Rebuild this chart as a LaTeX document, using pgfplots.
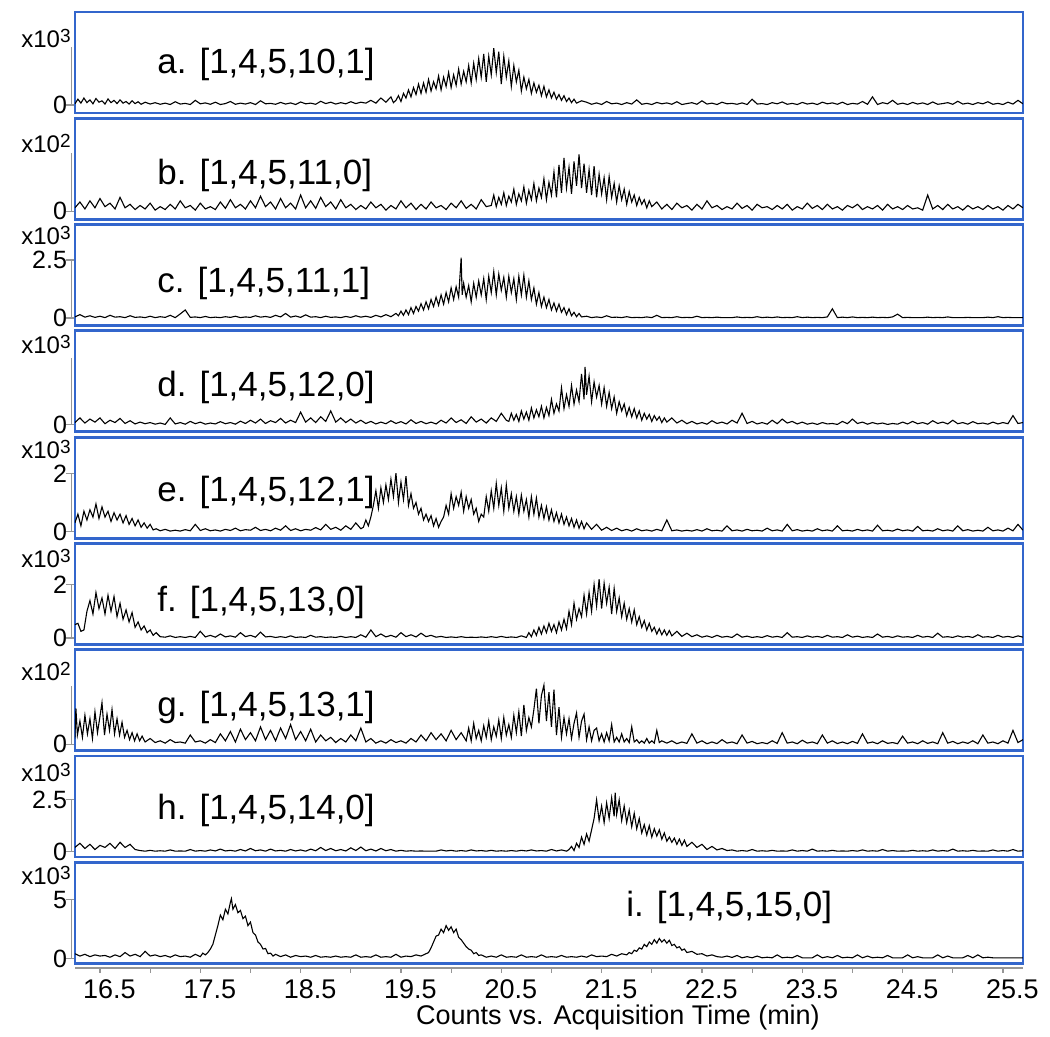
\documentclass[border=0pt]{standalone}
\usepackage{fontspec}
\setmainfont{Liberation Sans}
\usepackage{pgfplots}
\pgfplotsset{compat=1.18}
\definecolor{fblue}{RGB}{51,102,204}
\definecolor{agray}{RGB}{150,150,150}
\pgfplotsset{
 panel/.style={scale only axis, width=474pt, height=50.5pt, anchor=south west,
  xmin=16.251, xmax=25.70, xtick=\empty,
  axis line style={draw=fblue, line width=1.4pt},
  ytick pos=left, tick align=outside, major tick length=4.5pt,
  tick style={draw=agray, line width=0.6pt},
  yticklabel style={font=\fontsize{12.5}{14}\selectfont, xshift=4pt},
  /pgf/number format/assume math mode=true,
  clip mode=individual, scaled y ticks=false},
 trace/.style={black, line width=0.55pt, mark=none}
}
\newcommand{\gline}[1]{\draw[agray, line width=0.6pt] ([xshift=-1.6pt]axis cs:16.251,0) -- ([xshift=-1.6pt]axis cs:16.251,#1);}
\begin{document}
\begin{tikzpicture}[x=1pt,y=1pt]
\useasboundingbox (0,0) rectangle (525,518.5);
% ---------- a ----------
\begin{axis}[panel, at={(37.5pt,462pt)}, ymin=-0.345, ymax=4.01, ytick={0}]
\addplot[trace] coordinates {(16.25,0.05)(16.28,0.25)(16.31,0.08)(16.34,0.3)(16.37,0.1)(16.4,0.22)(16.43,0.05)(16.46,0.28)(16.49,0.12)(16.52,0.18)(16.55,0.04)(16.58,0.26)(16.61,0.1)(16.64,0.2)(16.67,0.06)(16.7,0.22)(16.73,0.08)(16.76,0.15)(16.79,0.04)(16.82,0.18)(16.85,0.06)(16.88,0.14)(16.91,0.03)(16.95,0.12)(17,0.04)
(17.05,0.1)(17.1,0.03)(17.15,0.08)(17.2,0.02)(17.25,0.14)(17.3,0.04)(17.35,0.07)(17.4,0.02)(17.45,0.2)(17.5,0.05)(17.55,0.09)(17.6,0.03)(17.65,0.12)(17.7,0.02)(17.75,0.06)(17.8,0.15)(17.85,0.03)(17.9,0.08)(17.95,0.04)(18,0.1)(18.05,0.02)(18.1,0.18)(18.15,0.05)(18.2,0.07)(18.25,0.03)(18.3,0.11)(18.35,0.04)(18.4,0.09)(18.45,0.02)(18.5,0.13)(18.55,0.05)(18.6,0.08)(18.65,0.03)(18.7,0.16)(18.75,0.06)(18.8,0.12)(18.85,0.04)(18.9,0.1)(18.95,0.05)(19,0.14)(19.05,0.06)(19.1,0.12)(19.15,0.08)
(19.2,0.2)(19.25,0.08)(19.3,0.3)(19.35,0.12)(19.4,0.35)(19.425,0.1)
(19.45,0.2)(19.475,0.4)(19.5,0.15)(19.525,0.5)(19.55,0.3)(19.575,0.65)(19.6,0.35)(19.625,0.75)(19.65,0.45)(19.675,0.9)(19.7,0.5)(19.725,0.95)(19.75,0.55)(19.775,1.1)(19.8,0.6)(19.825,1.0)(19.85,0.7)(19.875,1.25)(19.9,0.65)(19.925,1.2)(19.95,0.8)(19.975,1.4)(20,0.75)(20.025,1.3)(20.05,0.85)(20.075,1.55)(20.1,0.9)(20.125,1.45)(20.15,1.0)(20.175,1.7)(20.2,0.95)(20.225,1.8)(20.25,1.1)(20.275,2.0)(20.3,1.2)(20.325,2.2)(20.35,1.0)(20.375,2.1)(20.4,1.3)(20.425,2.45)(20.45,1.4)(20.475,2.3)(20.5,0.9)(20.525,2.1)(20.55,1.2)(20.575,1.9)(20.6,0.8)(20.625,1.7)(20.65,1.0)(20.675,1.5)(20.7,0.6)(20.725,1.2)(20.75,0.7)(20.775,1.1)(20.8,0.5)(20.825,0.95)(20.85,0.55)(20.875,0.85)(20.9,0.4)(20.925,0.8)(20.95,0.35)(20.975,0.65)(21,0.3)(21.025,0.55)(21.05,0.25)(21.075,0.45)(21.1,0.2)(21.125,0.4)(21.15,0.15)(21.175,0.3)(21.2,0.1)(21.225,0.25)(21.25,0.08)(21.3,0.18)
(21.35,0.12)(21.4,0.03)(21.45,0.09)(21.5,0.02)(21.55,0.15)(21.6,0.05)(21.65,0.08)(21.7,0.02)(21.75,0.1)(21.8,0.04)(21.85,0.22)(21.9,0.03)(21.95,0.07)(22,0.02)(22.05,0.11)(22.1,0.05)(22.15,0.09)(22.2,0.03)(22.25,0.14)(22.3,0.02)(22.35,0.06)(22.4,0.1)(22.45,0.03)(22.5,0.18)(22.55,0.04)(22.6,0.08)(22.65,0.02)(22.7,0.12)(22.75,0.05)(22.8,0.07)(22.85,0.03)(22.9,0.09)(22.95,0.02)(23,0.25)(23.05,0.04)(23.1,0.06)(23.15,0.02)(23.2,0.1)(23.25,0.05)(23.3,0.13)(23.35,0.03)(23.4,0.07)(23.45,0.02)(23.5,0.11)(23.55,0.04)(23.6,0.08)(23.65,0.02)(23.7,0.12)(23.75,0.05)(23.8,0.09)(23.85,0.03)(23.9,0.12)(23.95,0.02)(24,0.07)(24.05,0.04)(24.1,0.15)(24.15,0.03)(24.2,0.35)(24.25,0.02)(24.3,0.1)(24.35,0.05)(24.4,0.2)(24.45,0.03)(24.5,0.08)(24.55,0.02)(24.6,0.11)(24.65,0.04)(24.7,0.09)(24.75,0.02)(24.8,0.13)(24.85,0.03)(24.9,0.06)(24.95,0.1)(25,0.03)(25.05,0.16)(25.1,0.04)(25.15,0.08)(25.2,0.02)(25.25,0.1)(25.3,0.05)(25.35,0.14)(25.4,0.03)(25.45,0.07)(25.5,0.02)(25.55,0.12)(25.6,0.04)(25.65,0.2)(25.7,0.05)};
\gline{2.5}
\end{axis}
% ---------- b ----------
\begin{axis}[panel, at={(37.5pt,408.85pt)}, ymin=-0.69, ymax=8.02, ytick={0}]
\addplot[trace] coordinates {(16.25,0.3)(16.3,0.8)(16.35,0.2)(16.4,0.9)(16.45,0.3)(16.5,1.1)(16.55,0.4)(16.6,0.7)(16.65,0.2)(16.7,1.2)(16.75,0.3)(16.8,0.6)(16.85,0.15)(16.9,0.5)(16.95,0.2)(17,0.7)(17.05,0.1)(17.1,0.4)(17.15,0.15)(17.2,0.6)(17.25,0.2)(17.3,0.9)(17.35,0.3)(17.4,0.5)(17.45,0.1)(17.5,0.7)(17.55,0.2)(17.6,0.4)(17.65,0.15)(17.7,0.8)(17.75,0.25)(17.8,1.0)(17.85,0.3)(17.9,0.6)(17.95,0.2)(18,0.9)(18.05,0.3)(18.1,1.3)(18.15,0.4)(18.2,0.8)(18.25,0.2)(18.3,1.1)(18.35,0.3)(18.4,0.7)(18.45,0.2)(18.5,1.4)(18.55,0.3)(18.6,0.9)(18.65,0.25)(18.7,1.2)(18.75,0.4)(18.8,0.8)(18.85,0.2)(18.9,1.0)(18.95,0.3)(19,0.6)(19.05,0.15)(19.1,0.5)(19.15,0.2)(19.2,0.8)(19.25,0.3)(19.3,0.6)(19.35,0.1)(19.4,0.5)(19.45,0.2)(19.5,0.9)(19.55,0.3)(19.6,0.7)(19.65,0.15)(19.7,0.6)(19.75,0.2)(19.8,0.8)(19.85,0.3)(19.9,0.5)(19.95,0.15)(20,0.7)(20.05,0.3)(20.1,0.9)(20.15,0.25)(20.2,0.6)(20.25,0.2)(20.3,1.0)(20.35,0.4)
(20.4,0.5)(20.425,1.4)(20.45,0.4)(20.475,1.2)(20.5,0.6)(20.525,1.6)(20.55,0.5)(20.575,1.3)(20.6,0.8)(20.625,1.9)(20.65,0.6)(20.675,1.5)(20.7,0.9)(20.725,2.1)(20.75,0.7)(20.775,1.8)(20.8,1.0)(20.825,2.4)(20.85,0.9)(20.875,2.0)(20.9,1.2)(20.925,2.8)(20.95,1.0)(20.975,2.5)(21,1.4)(21.025,3.4)(21.05,1.2)(21.075,4.0)(21.1,1.6)(21.125,4.6)(21.15,2.0)(21.175,3.8)(21.2,1.5)(21.225,4.3)(21.25,2.2)(21.275,4.9)(21.3,2.0)(21.325,4.1)(21.35,1.6)(21.375,3.6)(21.4,1.4)(21.425,3.9)(21.45,1.2)(21.475,3.2)(21.5,1.5)(21.525,2.9)(21.55,1.0)(21.575,3.0)(21.6,1.2)(21.625,2.4)(21.65,0.8)(21.675,2.2)(21.7,1.0)(21.725,1.9)(21.75,0.6)(21.775,1.7)(21.8,0.8)(21.825,1.4)(21.85,0.5)(21.875,1.2)(21.9,0.6)(21.925,1.0)(21.95,0.3)(21.975,0.9)(22,0.4)
(22.05,0.8)(22.1,0.2)(22.15,0.6)(22.2,0.15)(22.25,0.7)(22.3,0.3)(22.35,0.5)(22.4,0.1)(22.45,0.6)(22.5,0.2)(22.55,0.9)(22.6,0.3)(22.65,0.5)(22.7,0.15)(22.75,0.4)(22.8,0.2)(22.85,0.7)(22.9,0.25)(22.95,0.5)(23,0.1)(23.05,0.6)(23.1,0.3)(23.15,0.4)(23.2,0.15)(23.25,0.5)(23.3,0.2)(23.35,0.6)(23.4,0.1)(23.45,0.4)(23.5,0.2)(23.55,0.7)(23.6,0.25)(23.65,0.5)(23.7,0.15)(23.75,0.6)(23.8,0.2)(23.85,0.4)(23.9,0.1)(23.95,0.5)(24,0.3)(24.05,0.6)(24.1,0.15)(24.15,0.4)(24.2,0.2)(24.25,0.5)(24.3,0.1)(24.35,0.6)(24.4,0.2)(24.45,0.4)(24.5,0.15)(24.55,0.5)(24.6,0.2)(24.65,0.3)(24.7,0.1)(24.75,1.4)(24.8,0.2)(24.85,0.5)(24.9,0.15)(24.95,0.6)(25,0.2)(25.05,0.4)(25.1,0.1)(25.15,0.5)(25.2,0.2)(25.25,0.4)(25.3,0.15)(25.35,0.5)(25.4,0.2)(25.45,0.4)(25.5,0.1)(25.55,0.5)(25.6,0.2)(25.65,0.6)(25.7,0.3)};
\gline{5}
\end{axis}
% ---------- c ----------
\begin{axis}[panel, at={(37.5pt,355.7pt)}, ymin=-0.323, ymax=4.03, ytick={0,2.5}]
\addplot[trace] coordinates {(16.25,0.05)(16.3,0.15)(16.35,0.04)(16.4,0.1)(16.45,0.03)(16.5,0.08)(16.55,0.02)(16.6,0.12)(16.65,0.04)(16.7,0.06)(16.75,0.02)(16.8,0.1)(16.85,0.03)(16.9,0.05)(16.95,0.02)(17,0.08)(17.05,0.02)(17.1,0.06)(17.15,0.03)(17.2,0.12)(17.25,0.02)(17.3,0.18)(17.35,0.35)(17.4,0.03)(17.45,0.05)(17.5,0.02)(17.55,0.07)(17.6,0.02)(17.65,0.04)(17.7,0.02)(17.75,0.06)(17.8,0.03)(17.85,0.08)(17.9,0.02)(17.95,0.05)(18,0.03)(18.05,0.1)(18.1,0.04)(18.15,0.07)(18.2,0.03)(18.25,0.12)(18.3,0.05)(18.35,0.2)(18.4,0.04)(18.45,0.09)(18.5,0.03)(18.55,0.14)(18.6,0.04)(18.65,0.06)(18.7,0.02)(18.75,0.08)(18.8,0.03)(18.85,0.05)(18.9,0.02)(18.95,0.07)(19,0.03)(19.05,0.1)(19.1,0.04)(19.15,0.08)(19.2,0.03)(19.25,0.12)(19.3,0.05)(19.35,0.15)(19.4,0.06)(19.45,0.2)
(19.475,0.1)(19.5,0.3)(19.525,0.12)(19.55,0.35)(19.575,0.15)(19.6,0.45)(19.625,0.2)(19.65,0.5)(19.675,0.3)(19.7,0.62)(19.725,0.35)(19.75,0.7)(19.775,0.4)(19.8,0.8)(19.825,0.5)(19.85,0.9)(19.875,0.55)(19.9,1.0)(19.925,0.6)(19.95,1.1)(19.975,0.7)(20,1.3)(20.025,0.8)(20.05,1.35)(20.075,0.9)(20.1,2.6)(20.11,1.0)(20.125,1.5)(20.15,0.9)(20.175,1.4)(20.2,0.7)(20.225,1.5)(20.25,0.9)(20.275,1.6)(20.3,1.0)(20.325,1.7)(20.35,0.8)(20.375,1.8)(20.4,1.1)(20.425,2.0)(20.45,1.0)(20.475,1.9)(20.5,1.2)(20.525,1.75)(20.55,0.9)(20.575,1.8)(20.6,1.1)(20.625,1.7)(20.65,0.8)(20.675,1.8)(20.7,1.0)(20.725,1.85)(20.75,0.9)(20.775,1.6)(20.8,0.8)(20.825,1.3)(20.85,0.6)(20.875,1.1)(20.9,0.5)(20.925,0.9)(20.95,0.45)(20.975,0.8)(21,0.35)(21.025,0.65)(21.05,0.3)(21.075,0.6)(21.1,0.25)(21.125,0.45)(21.15,0.15)(21.175,0.4)(21.2,0.1)(21.225,0.25)(21.25,0.06)(21.275,0.2)(21.3,0.05)
(21.35,0.08)(21.4,0.02)(21.45,0.05)(21.5,0.02)(21.55,0.1)(21.6,0.03)(21.65,0.04)(21.7,0.02)(21.75,0.06)(21.8,0.02)(21.85,0.03)(21.9,0.02)(21.95,0.05)(22,0.02)(22.05,0.12)(22.1,0.02)(22.15,0.03)(22.2,0.02)(22.25,0.06)(22.3,0.02)(22.35,0.03)(22.4,0.02)(22.45,0.08)(22.5,0.02)(22.55,0.03)(22.6,0.02)(22.65,0.04)(22.7,0.02)(22.75,0.02)(22.8,0.02)(22.85,0.05)(22.9,0.02)(22.95,0.03)(23,0.02)(23.05,0.06)(23.1,0.02)(23.15,0.04)(23.2,0.02)(23.25,0.05)(23.3,0.02)(23.35,0.03)(23.4,0.02)(23.45,0.06)(23.5,0.02)(23.55,0.04)(23.6,0.02)(23.65,0.03)(23.7,0.02)(23.75,0.05)(23.8,0.4)(23.85,0.02)(23.9,0.04)(23.95,0.02)(24,0.05)(24.05,0.02)(24.1,0.03)(24.15,0.02)(24.2,0.04)(24.25,0.02)(24.3,0.03)(24.35,0.02)(24.4,0.05)(24.45,0.17)(24.5,0.02)(24.55,0.03)(24.6,0.02)(24.65,0.02)(24.7,0.02)(24.75,0.04)(24.8,0.02)(24.85,0.03)(24.9,0.02)(24.95,0.05)(25,0.02)(25.05,0.02)(25.1,0.02)(25.15,0.03)(25.2,0.02)(25.25,0.02)(25.3,0.02)(25.35,0.04)(25.4,0.02)(25.45,0.06)(25.5,0.02)(25.55,0.03)(25.6,0.02)(25.65,0.02)(25.7,0.02)};
\gline{2.5}
\end{axis}
% ---------- d ----------
\begin{axis}[panel, at={(37.5pt,302.55pt)}, ymin=-0.302, ymax=4.052, ytick={0}]
\addplot[trace] coordinates {(16.25,0.1)(16.3,0.3)(16.35,0.08)(16.4,0.25)(16.45,0.12)(16.5,0.3)(16.55,0.05)(16.6,0.2)(16.65,0.1)(16.7,0.28)(16.75,0.06)(16.8,0.18)(16.85,0.04)(16.9,0.12)(16.95,0.05)(17,0.1)(17.05,0.03)(17.1,0.08)(17.15,0.02)(17.2,0.3)(17.25,0.04)(17.3,0.1)(17.35,0.03)(17.4,0.15)(17.45,0.05)(17.5,0.12)(17.55,0.03)(17.6,0.08)(17.65,0.04)(17.7,0.14)(17.75,0.05)(17.8,0.1)(17.85,0.03)(17.9,0.16)(17.95,0.06)(18,0.2)(18.05,0.08)(18.1,0.25)(18.15,0.06)(18.2,0.18)(18.25,0.1)(18.3,0.28)(18.35,0.08)(18.4,0.2)(18.45,0.1)(18.5,0.55)(18.55,0.12)(18.6,0.3)(18.65,0.1)(18.7,0.35)(18.75,0.15)(18.8,0.6)(18.85,0.12)(18.9,0.3)(18.95,0.1)(19,0.25)(19.05,0.08)(19.1,0.2)(19.15,0.06)(19.2,0.15)(19.25,0.04)(19.3,0.12)(19.35,0.05)(19.4,0.18)(19.45,0.06)(19.5,0.14)(19.55,0.04)(19.6,0.22)(19.65,0.06)(19.7,0.15)(19.75,0.05)(19.8,0.12)(19.85,0.04)(19.9,0.2)(19.95,0.08)(20,0.3)(20.05,0.1)(20.1,0.22)(20.15,0.06)(20.2,0.35)(20.25,0.12)(20.3,0.25)(20.35,0.08)(20.4,0.3)(20.45,0.15)(20.5,0.5)(20.55,0.2)
(20.575,0.15)(20.6,0.5)(20.625,0.2)(20.65,0.45)(20.675,0.15)(20.7,0.6)(20.725,0.25)(20.75,0.55)(20.775,0.2)(20.8,0.73)(20.825,0.3)(20.85,0.65)(20.875,0.35)(20.9,0.8)(20.925,0.3)(20.95,0.75)(20.975,0.4)(21,1.1)(21.025,0.5)(21.05,0.9)(21.075,0.6)(21.1,1.6)(21.125,0.7)(21.15,1.3)(21.175,0.8)(21.2,1.7)(21.225,0.9)(21.25,1.5)(21.275,1.0)(21.3,2.2)(21.325,1.1)(21.335,2.5)(21.35,1.3)(21.375,2.1)(21.4,1.0)(21.425,1.85)(21.45,1.2)(21.475,1.7)(21.5,0.9)(21.525,1.6)(21.55,0.8)(21.575,1.4)(21.6,0.7)(21.625,1.2)(21.65,0.5)(21.675,1.0)(21.7,0.6)(21.725,0.9)(21.75,0.4)(21.775,0.75)(21.8,0.35)(21.825,0.7)(21.85,0.3)(21.875,0.6)(21.9,0.2)(21.925,0.5)(21.95,0.25)(21.975,0.45)(22,0.15)(22.025,0.4)(22.05,0.2)(22.075,0.35)(22.1,0.1)(22.125,0.3)(22.15,0.12)(22.2,0.3)(22.25,0.08)
(22.3,0.2)(22.35,0.05)(22.4,0.15)(22.45,0.04)(22.5,0.1)(22.55,0.03)(22.6,0.18)(22.65,0.06)(22.7,0.12)(22.75,0.04)(22.8,0.2)(22.85,0.08)(22.9,0.5)(22.95,0.06)(23,0.15)(23.05,0.04)(23.1,0.1)(23.15,0.03)(23.2,0.2)(23.25,0.05)(23.3,0.25)(23.35,0.08)(23.4,0.15)(23.45,0.04)(23.5,0.12)(23.55,0.03)(23.6,0.08)(23.65,0.02)(23.7,0.1)(23.75,0.04)(23.8,0.06)(23.85,0.02)(23.9,0.15)(23.95,0.05)(24,0.25)(24.05,0.06)(24.1,0.12)(24.15,0.03)(24.2,0.1)(24.25,0.04)(24.3,0.08)(24.35,0.02)(24.4,0.06)(24.45,0.03)(24.5,0.12)(24.55,0.04)(24.6,0.15)(24.65,0.05)(24.7,0.1)(24.75,0.03)(24.8,0.18)(24.85,0.06)(24.9,0.12)(24.95,0.04)(25,0.2)(25.05,0.05)(25.1,0.1)(25.15,0.03)(25.2,0.14)(25.25,0.05)(25.3,0.08)(25.35,0.03)(25.4,0.12)(25.45,0.04)(25.5,0.1)(25.55,0.05)(25.6,0.4)(25.65,0.06)(25.7,0.1)};
\gline{2.9}
\end{axis}
% ---------- e ----------
\begin{axis}[panel, at={(37.5pt,249.4pt)}, ymin=-0.223, ymax=3.236, ytick={0,2}]
\addplot[trace] coordinates {(16.25,0.3)(16.28,0.6)(16.31,0.2)(16.34,0.7)(16.37,0.4)(16.4,0.75)(16.43,0.5)(16.46,0.95)(16.49,0.45)(16.52,0.85)(16.55,0.5)(16.58,0.7)(16.61,0.35)(16.64,0.65)(16.67,0.4)(16.7,0.6)(16.73,0.3)(16.76,0.55)(16.79,0.25)(16.82,0.45)(16.85,0.2)(16.88,0.4)(16.91,0.15)(16.94,0.3)(16.97,0.12)(17,0.25)(17.03,0.06)(17.06,0.1)
(17.1,0.03)(17.15,0.08)(17.2,0.02)(17.25,0.05)(17.3,0.02)(17.35,0.07)(17.4,0.03)(17.45,0.25)(17.5,0.04)(17.55,0.1)(17.6,0.03)(17.65,0.06)(17.7,0.02)(17.75,0.08)(17.8,0.04)(17.85,0.12)(17.9,0.03)(17.95,0.07)(18,0.05)(18.05,0.15)(18.1,0.04)(18.15,0.08)(18.2,0.03)(18.25,0.12)(18.3,0.05)(18.35,0.2)(18.4,0.04)(18.45,0.1)(18.5,0.03)(18.55,0.08)(18.6,0.05)(18.65,0.14)(18.7,0.06)(18.75,0.25)(18.8,0.08)(18.85,0.15)(18.9,0.05)(18.95,0.2)(19,0.08)(19.05,0.3)(19.1,0.1)
(19.125,0.15)(19.15,0.4)(19.175,0.2)(19.2,0.5)(19.225,0.9)(19.25,1.4)(19.275,0.8)(19.3,1.5)(19.325,1.0)(19.35,1.6)(19.375,1.1)(19.4,1.8)(19.425,1.2)(19.45,2.0)(19.475,1.0)(19.5,1.7)(19.525,1.1)(19.55,1.9)(19.575,0.9)(19.6,1.3)(19.625,0.8)(19.65,1.0)(19.675,0.6)(19.7,0.8)(19.725,0.4)(19.75,0.6)(19.775,0.35)(19.8,0.55)(19.825,0.2)(19.85,0.45)(19.875,0.15)(19.9,0.35)(19.925,0.5)(19.95,0.9)(19.975,0.6)(20,1.3)(20.025,0.8)(20.05,1.2)(20.075,0.9)(20.1,1.35)(20.125,0.7)(20.15,1.2)(20.175,0.8)(20.2,1.1)(20.225,0.6)(20.25,0.8)(20.275,0.35)(20.3,0.6)(20.325,0.5)(20.35,1.2)(20.375,0.7)(20.4,1.4)(20.425,0.8)(20.45,1.65)(20.475,0.9)(20.5,1.5)(20.525,0.7)(20.55,1.6)(20.575,0.8)(20.6,1.3)(20.625,0.7)(20.65,1.2)(20.675,0.6)(20.7,1.25)(20.725,0.7)(20.75,1.1)(20.775,0.5)(20.8,1.2)(20.825,0.6)(20.85,1.15)(20.875,0.5)(20.9,0.9)(20.925,0.45)(20.95,0.85)(20.975,0.4)(21,0.75)(21.025,0.35)(21.05,0.65)(21.075,0.3)(21.1,0.6)(21.125,0.25)(21.15,0.5)(21.175,0.2)(21.2,0.45)(21.225,0.15)(21.25,0.4)(21.275,0.12)(21.3,0.35)(21.325,0.1)(21.35,0.3)(21.4,0.08)(21.45,0.25)(21.5,0.05)(21.55,0.15)
(21.6,0.04)(21.65,0.12)(21.7,0.03)(21.75,0.08)(21.8,0.02)(21.85,0.1)(21.9,0.03)(21.95,0.06)(22,0.02)(22.05,0.08)(22.1,0.03)(22.15,0.4)(22.2,0.03)(22.25,0.06)(22.3,0.02)(22.35,0.05)(22.4,0.02)(22.45,0.07)(22.5,0.02)(22.55,0.1)(22.6,0.03)(22.65,0.05)(22.7,0.02)(22.75,0.2)(22.8,0.03)(22.85,0.06)(22.9,0.02)(22.95,0.08)(23,0.03)(23.05,0.05)(23.1,0.02)(23.15,0.12)(23.2,0.03)(23.25,0.06)(23.3,0.02)(23.35,0.25)(23.4,0.03)(23.45,0.07)(23.5,0.02)(23.55,0.05)(23.6,0.02)(23.65,0.1)(23.7,0.03)(23.75,0.06)(23.8,0.02)(23.85,0.2)(23.9,0.03)(23.95,0.05)(24,0.02)(24.05,0.08)(24.1,0.03)(24.15,0.06)(24.2,0.02)(24.25,0.22)(24.3,0.03)(24.35,0.05)(24.4,0.02)(24.45,0.09)(24.5,0.03)(24.55,0.06)(24.6,0.02)(24.65,0.18)(24.7,0.03)(24.75,0.05)(24.8,0.02)(24.85,0.1)(24.9,0.03)(24.95,0.06)(25,0.02)(25.05,0.2)(25.1,0.03)(25.15,0.07)(25.2,0.02)(25.25,0.05)(25.3,0.02)(25.35,0.15)(25.4,0.03)(25.45,0.06)(25.5,0.02)(25.55,0.12)(25.6,0.03)(25.65,0.25)(25.7,0.05)};
\gline{2}
\end{axis}
% ---------- f ----------
\begin{axis}[panel, at={(37.5pt,196.25pt)}, ymin=-0.243, ymax=3.539, ytick={0,2}]
\addplot[trace] coordinates {(16.25,0.5)(16.28,0.55)(16.31,0.25)(16.34,0.3)(16.37,1.0)(16.4,1.4)(16.43,0.9)(16.46,1.7)(16.49,1.1)(16.52,1.5)(16.55,0.9)(16.58,1.6)(16.61,1.0)(16.64,1.55)(16.67,0.8)(16.7,1.3)(16.73,0.7)(16.76,1.05)(16.79,0.6)(16.82,0.95)(16.85,0.4)(16.88,0.6)(16.91,0.3)(16.94,0.45)(16.97,0.2)(17,0.3)(17.03,0.1)(17.06,0.2)
(17.1,0.05)(17.15,0.03)(17.2,0.08)(17.25,0.02)(17.3,0.05)(17.35,0.02)(17.4,0.06)(17.45,0.02)(17.5,0.25)(17.55,0.04)(17.6,0.1)(17.65,0.03)(17.7,0.15)(17.75,0.04)(17.8,0.08)(17.85,0.03)(17.9,0.2)(17.95,0.05)(18,0.1)(18.05,0.03)(18.1,0.22)(18.15,0.04)(18.2,0.06)(18.25,0.02)(18.3,0.05)(18.35,0.02)(18.4,0.08)(18.45,0.02)(18.5,0.04)(18.55,0.02)(18.6,0.1)(18.65,0.03)(18.7,0.05)(18.75,0.02)(18.8,0.04)(18.85,0.02)(18.9,0.06)(18.95,0.02)(19,0.05)(19.05,0.02)(19.1,0.12)(19.15,0.03)(19.2,0.3)(19.25,0.05)(19.3,0.15)(19.35,0.04)(19.4,0.1)(19.45,0.03)(19.5,0.2)(19.55,0.05)(19.6,0.12)(19.65,0.04)(19.7,0.18)(19.75,0.05)(19.8,0.1)(19.85,0.03)(19.9,0.06)(19.95,0.02)(20,0.04)(20.05,0.02)(20.1,0.05)(20.15,0.02)(20.2,0.03)(20.25,0.02)(20.3,0.04)(20.35,0.02)(20.4,0.05)(20.45,0.02)(20.5,0.06)(20.55,0.02)(20.6,0.04)(20.65,0.02)(20.7,0.08)(20.75,0.02)
(20.775,0.2)(20.8,0.05)(20.825,0.3)(20.85,0.1)(20.875,0.4)(20.9,0.15)(20.925,0.45)(20.95,0.2)(20.975,0.55)(21,0.25)(21.025,0.5)(21.05,0.2)(21.075,0.6)(21.1,0.3)(21.125,0.7)(21.15,0.35)(21.175,1.0)(21.2,0.5)(21.225,1.3)(21.25,0.7)(21.275,1.1)(21.3,0.8)(21.325,1.6)(21.35,0.9)(21.375,1.7)(21.4,1.0)(21.425,2.0)(21.45,1.2)(21.475,2.2)(21.5,1.1)(21.525,2.05)(21.55,1.3)(21.575,1.9)(21.6,0.9)(21.625,1.85)(21.65,1.0)(21.675,1.5)(21.7,0.8)(21.725,1.3)(21.75,0.7)(21.775,1.1)(21.8,0.6)(21.825,1.05)(21.85,0.5)(21.875,0.8)(21.9,0.4)(21.925,0.65)(21.95,0.3)(21.975,0.55)(22,0.25)(22.025,0.4)(22.05,0.15)(22.075,0.35)(22.1,0.12)(22.125,0.3)(22.15,0.1)(22.175,0.28)(22.2,0.08)(22.25,0.25)(22.3,0.06)(22.35,0.18)(22.4,0.05)
(22.45,0.12)(22.5,0.03)(22.55,0.08)(22.6,0.02)(22.65,0.1)(22.7,0.03)(22.75,0.06)(22.8,0.02)(22.85,0.15)(22.9,0.03)(22.95,0.07)(23,0.02)(23.05,0.05)(23.1,0.02)(23.15,0.09)(23.2,0.03)(23.25,0.06)(23.3,0.02)(23.35,0.2)(23.4,0.03)(23.45,0.05)(23.5,0.02)(23.55,0.08)(23.6,0.03)(23.65,0.06)(23.7,0.02)(23.75,0.1)(23.8,0.03)(23.85,0.05)(23.9,0.02)(23.95,0.12)(24,0.03)(24.05,0.07)(24.1,0.02)(24.15,0.05)(24.2,0.02)(24.25,0.15)(24.3,0.03)(24.35,0.06)(24.4,0.02)(24.45,0.08)(24.5,0.03)(24.55,0.05)(24.6,0.02)(24.65,0.1)(24.7,0.03)(24.75,0.06)(24.8,0.02)(24.85,0.18)(24.9,0.03)(24.95,0.05)(25,0.02)(25.05,0.08)(25.1,0.03)(25.15,0.06)(25.2,0.02)(25.25,0.12)(25.3,0.03)(25.35,0.05)(25.4,0.02)(25.45,0.1)(25.5,0.03)(25.55,0.06)(25.6,0.02)(25.65,0.08)(25.7,0.03)};
\gline{2}
\end{axis}
% ---------- g ----------
\begin{axis}[panel, at={(37.5pt,143.1pt)}, ymin=-0.56, ymax=8.147, ytick={0}]
\addplot[trace] coordinates {(16.25,0.5)(16.26,3.1)(16.275,0.8)(16.3,2.0)(16.325,0.6)(16.35,2.5)(16.375,0.9)(16.4,2.2)(16.425,0.5)(16.45,2.8)(16.475,1.0)(16.5,2.4)(16.52,3.6)(16.545,0.8)(16.57,2.6)(16.595,1.2)(16.62,3.0)(16.645,0.9)(16.67,2.2)(16.695,0.8)(16.72,1.9)(16.745,0.6)(16.77,1.2)(16.795,0.4)(16.82,1.0)(16.845,0.3)(16.87,0.9)(16.895,0.3)(16.92,0.7)
(16.95,0.2)(17,0.5)(17.05,0.15)(17.1,0.3)(17.15,0.1)(17.2,0.4)(17.25,0.15)(17.3,0.2)(17.35,0.1)(17.4,0.8)(17.45,0.2)(17.5,0.3)(17.55,0.1)(17.6,0.4)(17.65,0.15)(17.7,0.9)(17.75,0.3)(17.8,1.1)(17.85,0.2)(17.9,1.3)(17.95,0.4)(18,1.0)(18.05,0.3)(18.1,1.5)(18.15,0.4)(18.2,1.2)(18.25,0.3)(18.3,1.4)(18.35,0.5)(18.4,1.7)(18.45,0.4)(18.5,1.1)(18.55,0.3)(18.6,1.3)(18.65,0.2)(18.7,0.8)(18.75,0.3)(18.8,0.6)(18.85,0.15)(18.9,0.5)(18.95,0.2)(19,0.8)(19.05,0.3)(19.1,1.4)(19.15,0.2)(19.2,0.5)(19.25,0.1)(19.3,0.3)(19.35,0.1)(19.4,0.4)(19.45,0.15)(19.5,0.3)(19.55,0.1)(19.6,0.5)(19.65,0.2)(19.7,0.8)(19.75,0.3)(19.8,1.0)(19.85,0.4)(19.9,0.9)(19.95,0.3)(20,1.2)(20.05,0.4)(20.1,1.0)(20.15,0.3)
(20.175,1.4)(20.2,0.3)(20.225,1.8)(20.25,0.5)(20.275,1.2)(20.3,0.3)(20.325,1.6)(20.35,0.6)(20.375,2.0)(20.4,0.4)(20.425,1.5)(20.45,0.7)(20.475,2.1)(20.5,0.5)(20.525,2.3)(20.55,0.8)(20.575,1.7)(20.6,0.6)(20.625,2.5)(20.65,1.0)(20.675,2.8)(20.7,0.7)(20.725,3.4)(20.75,1.2)(20.775,2.3)(20.8,1.5)(20.825,3.0)(20.85,4.8)(20.875,1.8)(20.9,4.2)(20.925,5.1)(20.95,2.0)(20.975,4.5)(21,1.5)(21.025,4.7)(21.05,0.8)(21.075,3.2)(21.1,0.6)(21.125,2.3)(21.15,0.9)(21.175,2.2)(21.2,0.5)(21.225,1.8)(21.25,2.7)(21.275,0.6)(21.3,2.0)(21.325,2.6)(21.35,0.4)(21.375,1.5)(21.4,0.3)(21.425,1.2)(21.45,1.4)(21.475,0.3)(21.5,0.9)(21.525,0.2)(21.55,1.0)(21.575,0.3)(21.6,1.7)(21.625,0.2)(21.65,0.6)(21.675,0.2)(21.7,0.9)(21.725,0.2)(21.75,0.5)(21.775,0.15)(21.8,1.5)(21.825,0.2)(21.85,0.4)(21.875,0.1)(21.9,0.3)(21.925,0.1)(21.95,0.5)(21.975,0.1)(22,0.3)(22.025,0.1)(22.05,1.2)(22.075,0.15)(22.1,0.3)
(22.15,0.1)(22.2,0.3)(22.25,0.05)(22.3,0.2)(22.35,0.08)(22.4,0.9)(22.45,0.1)(22.5,0.3)(22.55,0.05)(22.6,0.2)(22.65,0.06)(22.7,0.4)(22.75,0.1)(22.8,0.2)(22.85,0.05)(22.9,0.8)(22.95,0.1)(23,0.25)(23.05,0.05)(23.1,0.15)(23.15,0.05)(23.2,0.3)(23.25,0.08)(23.3,1.0)(23.35,0.1)(23.4,0.2)(23.45,0.05)(23.5,0.35)(23.55,0.1)(23.6,0.2)(23.65,0.05)(23.7,0.8)(23.75,0.1)(23.8,0.3)(23.85,0.06)(23.9,0.2)(23.95,0.05)(24,0.25)(24.05,0.08)(24.1,0.9)(24.15,0.1)(24.2,0.2)(24.25,0.05)(24.3,0.3)(24.35,0.08)(24.4,0.15)(24.45,0.05)(24.5,0.7)(24.55,0.1)(24.6,0.2)(24.65,0.05)(24.7,0.3)(24.75,0.08)(24.8,0.2)(24.85,0.05)(24.9,1.0)(24.95,0.1)(25,0.25)(25.05,0.05)(25.1,0.2)(25.15,0.08)(25.2,0.3)(25.25,0.05)(25.3,0.8)(25.35,0.1)(25.4,0.2)(25.45,0.05)(25.5,0.3)(25.55,0.1)(25.6,1.2)(25.65,0.15)(25.7,0.4)};
\gline{5}
\end{axis}
% ---------- h ----------
\begin{axis}[panel, at={(37.5pt,89.95pt)}, ymin=-0.266, ymax=4.614, ytick={0,2.5}]
\addplot[trace] coordinates {(16.25,0.2)(16.3,0.4)(16.35,0.15)(16.4,0.35)(16.45,0.1)(16.5,0.3)(16.55,0.2)(16.6,0.4)(16.65,0.15)(16.7,0.45)(16.75,0.2)(16.8,0.35)(16.85,0.1)
(16.9,0.05)(16.95,0.02)(17,0.06)(17.05,0.02)(17.1,0.04)(17.15,0.02)(17.2,0.08)(17.25,0.02)(17.3,0.03)(17.35,0.02)(17.4,0.1)(17.45,0.02)(17.5,0.05)(17.55,0.02)(17.6,0.08)(17.65,0.03)(17.7,0.12)(17.75,0.03)(17.8,0.06)(17.85,0.02)(17.9,0.1)(17.95,0.03)(18,0.15)(18.05,0.04)(18.1,0.08)(18.15,0.02)(18.2,0.12)(18.25,0.03)(18.3,0.06)(18.35,0.02)(18.4,0.1)(18.45,0.03)(18.5,0.08)(18.55,0.02)(18.6,0.12)(18.65,0.04)(18.7,0.2)(18.75,0.05)(18.8,0.15)(18.85,0.04)(18.9,0.1)(18.95,0.03)(19,0.18)(19.05,0.05)(19.1,0.22)(19.15,0.04)(19.2,0.12)(19.25,0.03)(19.3,0.15)(19.35,0.04)(19.4,0.1)(19.45,0.02)(19.5,0.06)(19.55,0.02)(19.6,0.04)(19.65,0.02)(19.7,0.03)(19.75,0.02)(19.8,0.02)(19.85,0.02)(19.9,0.08)(19.95,0.03)(20,0.06)(20.05,0.02)(20.1,0.05)(20.15,0.02)(20.2,0.08)(20.25,0.03)(20.3,0.05)(20.35,0.02)(20.4,0.06)(20.45,0.02)(20.5,0.04)(20.55,0.02)(20.6,0.05)(20.65,0.02)(20.7,0.06)(20.75,0.03)(20.8,0.08)(20.85,0.03)(20.9,0.05)(20.95,0.02)(21,0.1)(21.05,0.03)(21.1,0.08)(21.15,0.02)
(21.175,0.1)(21.2,0.25)(21.225,0.05)(21.25,0.4)(21.275,0.2)(21.3,0.7)(21.325,0.35)(21.35,0.85)(21.375,0.5)(21.4,1.05)(21.425,1.6)(21.45,2.5)(21.475,1.5)(21.5,2.2)(21.525,1.4)(21.55,2.35)(21.575,1.6)(21.6,2.6)(21.625,1.7)(21.635,2.85)(21.65,1.8)(21.675,2.5)(21.7,1.5)(21.725,2.2)(21.75,1.4)(21.775,2.0)(21.8,1.2)(21.825,1.85)(21.85,1.1)(21.875,1.6)(21.9,0.9)(21.925,1.3)(21.95,0.8)(21.975,1.25)(22,0.7)(22.025,1.1)(22.05,0.75)(22.075,1.05)(22.1,0.6)(22.125,0.9)(22.15,0.5)(22.175,0.7)(22.2,0.45)(22.225,0.65)(22.25,0.35)(22.275,0.6)(22.3,0.3)(22.325,0.55)(22.35,0.25)(22.4,0.45)(22.45,0.2)(22.5,0.35)(22.55,0.1)(22.6,0.25)(22.65,0.08)(22.7,0.15)(22.75,0.05)
(22.8,0.08)(22.85,0.02)(22.9,0.05)(22.95,0.02)(23,0.1)(23.05,0.02)(23.1,0.04)(23.15,0.02)(23.2,0.06)(23.25,0.02)(23.3,0.03)(23.35,0.02)(23.4,0.08)(23.45,0.02)(23.5,0.05)(23.55,0.02)(23.6,0.12)(23.65,0.02)(23.7,0.04)(23.75,0.02)(23.8,0.06)(23.85,0.02)(23.9,0.03)(23.95,0.02)(24,0.05)(24.05,0.02)(24.1,0.08)(24.15,0.02)(24.2,0.04)(24.25,0.02)(24.3,0.1)(24.35,0.02)(24.4,0.05)(24.45,0.02)(24.5,0.03)(24.55,0.02)(24.6,0.06)(24.65,0.02)(24.7,0.04)(24.75,0.02)(24.8,0.08)(24.85,0.02)(24.9,0.05)(24.95,0.02)(25,0.12)(25.05,0.02)(25.1,0.04)(25.15,0.02)(25.2,0.06)(25.25,0.02)(25.3,0.03)(25.35,0.02)(25.4,0.08)(25.45,0.02)(25.5,0.05)(25.55,0.02)(25.6,0.1)(25.65,0.02)(25.7,0.04)};
\gline{2.5}
\end{axis}
% ---------- i ----------
\begin{axis}[panel, at={(37.5pt,36.8pt)}, ymin=-0.427, ymax=8.205, ytick={0,5}]
\addplot[trace] coordinates {(16.25,0.4)(16.3,0.2)(16.35,0.35)(16.4,0.15)(16.45,0.3)(16.5,0.2)(16.55,0.25)(16.6,0.1)(16.65,0.3)(16.7,0.15)(16.75,0.5)(16.8,0.2)(16.85,0.35)(16.9,0.15)(16.95,0.6)(17,0.2)(17.05,0.3)(17.1,0.15)(17.15,0.25)(17.2,0.1)(17.25,0.3)(17.3,0.15)(17.35,0.2)(17.4,0.1)(17.45,0.35)(17.5,0.15)(17.525,0.45)(17.55,0.3)
(17.575,0.5)(17.6,0.8)(17.625,1.2)(17.65,2.0)(17.675,2.8)(17.7,3.7)(17.725,3.3)(17.75,4.2)(17.775,3.8)(17.8,4.8)(17.81,5.1)(17.825,4.2)(17.85,4.6)(17.875,3.9)(17.9,4.1)(17.925,3.4)(17.95,3.6)(17.975,2.8)(18,3.1)(18.025,2.2)(18.05,2.0)(18.075,1.4)(18.1,1.2)(18.125,0.8)(18.15,0.85)(18.175,0.4)(18.2,0.45)(18.225,0.2)(18.25,0.35)
(18.3,0.15)(18.35,0.3)(18.4,0.1)(18.45,0.25)(18.5,0.15)(18.55,0.2)(18.6,0.1)(18.65,0.25)(18.7,0.1)(18.75,0.15)(18.8,0.1)(18.85,0.2)(18.9,0.1)(18.95,0.15)(19,0.1)(19.05,0.3)(19.1,0.1)(19.15,0.15)(19.2,0.1)(19.25,0.3)(19.3,0.1)(19.35,0.15)(19.4,0.1)(19.45,0.35)(19.5,0.1)(19.55,0.2)(19.6,0.15)(19.65,0.3)(19.7,0.2)(19.75,0.4)
(19.775,0.5)(19.8,0.9)(19.825,1.4)(19.85,1.9)(19.875,2.0)(19.9,2.5)(19.925,2.2)(19.95,2.8)(19.975,2.4)(20,2.7)(20.025,2.2)(20.05,2.5)(20.075,1.8)(20.1,1.6)(20.125,1.3)(20.15,1.0)(20.175,0.8)(20.2,0.7)(20.225,0.4)(20.25,0.5)(20.275,0.25)(20.3,0.3)
(20.35,0.1)(20.4,0.2)(20.45,0.1)(20.5,0.3)(20.55,0.1)(20.6,0.15)(20.65,0.1)(20.7,0.3)(20.75,0.1)(20.8,0.15)(20.85,0.1)(20.9,0.3)(20.95,0.1)(21,0.15)(21.05,0.1)(21.1,0.25)(21.15,0.1)(21.2,0.15)(21.25,0.1)(21.3,0.2)(21.35,0.1)(21.4,0.3)(21.45,0.15)(21.5,0.2)(21.55,0.15)(21.6,0.35)(21.65,0.2)(21.7,0.4)(21.75,0.3)
(21.775,0.5)(21.8,0.4)(21.825,0.7)(21.85,0.6)(21.875,0.9)(21.9,0.8)(21.925,1.2)(21.95,1.0)(21.975,1.4)(22,1.2)(22.025,1.6)(22.05,1.3)(22.075,1.7)(22.1,1.4)(22.125,1.6)(22.15,1.3)(22.175,1.55)(22.2,1.1)(22.225,1.2)(22.25,0.9)(22.275,1.0)(22.3,0.7)(22.325,0.8)(22.35,0.5)(22.4,0.6)(22.45,0.35)(22.5,0.4)(22.55,0.2)(22.6,0.3)
(22.65,0.15)(22.7,0.1)(22.75,0.2)(22.8,0.08)(22.85,0.25)(22.9,0.05)(22.95,0.15)(23,0.05)(23.05,0.2)(23.1,0.05)(23.15,0.1)(23.2,0.05)(23.25,0.3)(23.3,0.05)(23.35,0.1)(23.4,0.05)(23.45,0.25)(23.5,0.05)(23.55,0.05)(23.6,0.05)(23.65,0.3)(23.7,0.05)(23.75,0.15)(23.8,0.05)(23.85,0.25)(23.9,0.05)(23.95,0.1)(24,0.05)(24.05,0.3)(24.1,0.05)(24.15,0.2)(24.2,0.05)(24.25,0.1)(24.3,0.05)(24.35,0.25)(24.4,0.05)(24.45,0.05)(24.5,0.05)(24.55,0.3)(24.6,0.05)(24.65,0.15)(24.7,0.05)(24.75,0.05)(24.8,0.05)(24.85,0.3)(24.9,0.05)(24.95,0.2)(25,0.05)(25.05,0.05)(25.1,0.05)(25.15,0.25)(25.2,0.05)(25.25,0.3)(25.3,0.05)(25.35,0.1)(25.4,0.05)(25.45,0.05)(25.5,0.05)(25.55,0.05)(25.6,0.05)(25.65,0.05)(25.7,0.05)};
\gline{5}
\end{axis}
% ---------- x axis ----------
\begin{axis}[at={(37.5pt,34.5pt)}, anchor=south west, scale only axis, width=474pt, height=10pt,
  xmin=16.251, xmax=25.70, ymin=0, ymax=1,
  axis x line=bottom, axis y line=none,
  x axis line style={-, draw=agray, line width=0.6pt},
  xtick={16.5,17.5,18.5,19.5,20.5,21.5,22.5,23.5,24.5,25.5},
  minor xtick={17,18,19,20,21,22,23,24,25},
  tick align=outside, major tick length=2.5pt, minor tick length=2.5pt,
  tick style={draw=agray, line width=0.6pt},
  xticklabel style={font=\fontsize{13.5}{15}\selectfont, xshift=4.75pt},
  /pgf/number format/assume math mode=true,
  /pgf/number format/fixed, /pgf/number format/precision=1]
\end{axis}
\node[font=\fontsize{13.5}{15}\selectfont] at (309,9.5) {Counts vs. Acquisition Time (min)};
% multipliers
\newcommand{\mult}[1]{x10\raisebox{2.6pt}{\fontsize{9.5}{10}\selectfont #1}}
\begin{scope}[every node/.style={anchor=base east, font=\fontsize{12}{13}\selectfont, inner sep=0pt}]
\node at (35.5,494.8) {\mult{3}};
\node at (35.5,442) {\mult{2}};
\node at (35.5,396.25) {\mult{3}};
\node at (35.5,341.8) {\mult{3}};
\node at (35.5,289.25) {\mult{3}};
\node at (35.5,234.5) {\mult{3}};
\node at (35.5,178) {\mult{2}};
\node at (35.5,127.5) {\mult{3}};
\node at (35.5,76) {\mult{3}};
\end{scope}
% panel labels
\begin{scope}[every node/.style={anchor=base west, font=\fontsize{17.5}{20}\selectfont, inner sep=0pt}]
\node at (78.5,481.5) {a. [1,4,5,10,1]};
\node at (78.5,426) {b. [1,4,5,11,0]};
\node at (78.5,372.2) {c. [1,4,5,11,1]};
\node at (78.5,320.2) {d. [1,4,5,12,0]};
\node at (78.5,267.7) {e. [1,4,5,12,1]};
\node at (78.5,212.7) {f. [1,4,5,13,0]};
\node at (78.5,160.2) {g. [1,4,5,13,1]};
\node at (78.5,108.5) {h. [1,4,5,14,0]};
\node at (313,60.2) {i. [1,4,5,15,0]};
\end{scope}
\end{tikzpicture}
\end{document}
